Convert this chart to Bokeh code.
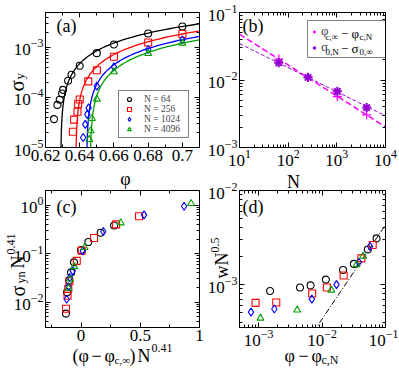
import numpy as np
from bokeh.plotting import figure
from bokeh.models import (Label, Legend, LegendItem, FixedTicker, LinearAxis, LogAxis,
                          CustomJSTickFormatter, GridBox)
from bokeh.embed import file_html
from bokeh.resources import INLINE

FONT = "Liberation Serif"
C64, C256, C1024, C4096 = "#000000", "#ff0000", "#0000ff", "#00a000"
MAGENTA, VIOLET = "#ff00ff", "#9400d3"

# ---------------- data ----------------
n_labels = ["N = 64", "N = 256", "N = 1024", "N = 4096"]

# panel (a): sigma_y vs phi
phi_a_64 = [0.625, 0.627, 0.6283, 0.6297, 0.6303, 0.6332, 0.6352, 0.640, 0.650, 0.660, 0.680, 0.700]
sig_a_64 = [3.7e-5, 7.1e-5, 9.0e-5, 1.2e-4, 1.42e-4, 2.16e-4, 2.85e-4, 4.3e-4, 7.7e-4, 1.15e-3, 1.9e-3, 2.63e-3]
phi_a_256 = [0.636, 0.6367, 0.6387, 0.6391, 0.640, 0.645, 0.650, 0.660, 0.680, 0.700]
sig_a_256 = [2.06e-5, 3.6e-5, 5.2e-5, 7.4e-5, 9.1e-5, 2.1e-4, 3.5e-4, 6.5e-4, 1.26e-3, 1.86e-3]
phi_a_1024 = [0.642, 0.6432, 0.6444, 0.6452, 0.650, 0.660, 0.680, 0.700]
sig_a_1024 = [1.58e-5, 2.9e-5, 4.6e-5, 6.2e-5, 1.69e-4, 4.1e-4, 9.1e-4, 1.43e-3]
phi_a_4096 = [0.6456, 0.6464, 0.6471, 0.650, 0.660, 0.680, 0.700]
sig_a_4096 = [1.45e-5, 2.16e-5, 3.8e-5, 9.3e-5, 3.27e-4, 7.6e-4, 1.22e-3]
# fit parameters sigma = A (phi - phi_c,N)^beta
fit_phic = [0.6289, 0.6377, 0.6440, 0.6461]
fit_amp = [0.0299, 0.0239, 0.0203, 0.0179]
fit_beta = 0.92

# panel (b): finite-size shifts
N_b = [64, 256, 1024, 4096]
dphi_b = [0.0204, 0.0111, 0.0057, 0.00305]
dsig_b = [0.018, 0.0109, 0.0068, 0.0039]
fit_dphi = (0.137, -0.458)
fit_dsig = (0.0789, -0.357)

# panel (c): scaling collapse
xc_64 = [-0.127, -0.118, -0.100, -0.084, -0.059, 0.0, 0.062, 0.166, 0.279]
yc_64 = [0.0058, 0.016, 0.028, 0.041, 0.066, 0.118, 0.173, 0.27, 0.38]
xc_256 = [-0.127, -0.114, -0.108, -0.098, -0.036, 0.005, 0.11, 0.296, 0.49]
yc_256 = [0.0073, 0.0135, 0.0186, 0.027, 0.071, 0.115, 0.21, 0.40, 0.59]
xc_1024 = [-0.121, -0.107, -0.095, -0.07, 0.014, 0.188, 0.532, 0.87]
yc_1024 = [0.0115, 0.0207, 0.032, 0.044, 0.114, 0.286, 0.63, 0.95]
xc_4096 = [-0.105, -0.093, -0.057, 0.03, 0.335, 0.929]
yc_4096 = [0.0194, 0.030, 0.054, 0.134, 0.43, 1.08]

# panel (d): width vs distance to phi_c,N
xd_64 = [1.52e-3, 4.5e-3, 6.6e-3, 0.0115, 0.0214, 0.0318, 0.0527, 0.0723]
yd_64 = [8.55e-4, 9.3e-4, 9.8e-4, 1.13e-3, 1.43e-3, 1.66e-3, 2.36e-3, 3.1e-3]
xd_256 = [8.97e-4, 1.9e-3, 7.0e-3, 0.0119, 0.0219, 0.0417, 0.0628]
yd_256 = [6.4e-4, 6.45e-4, 8.05e-4, 9.3e-4, 1.25e-3, 1.9e-3, 2.64e-3]
xd_1024 = [7.6e-4, 1.77e-3, 6.9e-3, 0.0169, 0.038, 0.0571]
yd_1024 = [5.1e-4, 5.5e-4, 7.0e-4, 1.0e-3, 1.73e-3, 2.54e-3]
xd_4096 = [1.07e-3, 4.06e-3, 0.014, 0.035, 0.0443]
yd_4096 = [4.4e-4, 5.37e-4, 8.75e-4, 1.63e-3, 2.0e-3]
fit_d = (0.043, 1.0)

# ticks
a_xticks = [0.62, 0.64, 0.66, 0.68, 0.70]
a_xminor = [0.63, 0.65, 0.67, 0.69, 0.71]
c_xticks = [0.0, 0.5, 1.0]
c_xminor = [-0.25, 0.25, 0.75]


def decades(lo, hi):
    return [10.0 ** e for e in range(lo, hi + 1)]


def minors(lo, hi):
    return [m * 10.0 ** e for e in range(lo, hi + 1) for m in range(2, 10)]


def no_align(p):
    if "frame_align" in p.properties():
        p.frame_align = False


# ---------------- helpers ----------------
LW, RW = 204, 194      # column widths
TH, BH = 174, 194      # row heights


def make_fig(xr, yr, xlog, ylog, left_col, top_row):
    p = figure(width=LW if left_col else RW, height=TH if top_row else BH,
               x_range=xr, y_range=yr,
               x_axis_type="log" if xlog else "linear",
               y_axis_type="log" if ylog else "linear",
               output_backend="svg", toolbar_location=None,
               min_border_left=45 if left_col else 30,
               min_border_right=5 if left_col else 13,
               min_border_top=12 if top_row else 16,
               min_border_bottom=27 if top_row else 41)
    p.xgrid.visible = False
    p.ygrid.visible = False
    p.outline_line_color = "black"
    p.background_fill_color = "white"
    p.border_fill_color = "white"
    no_align(p)
    return p


def style_axes(p, xt, xm, yt, ym, xlog, ylog, xfmt=None):
    xtick = FixedTicker(ticks=xt, minor_ticks=xm)
    ytick = FixedTicker(ticks=yt, minor_ticks=ym)
    bx = p.below[0]
    ly = p.left[0]
    bx.ticker = xtick
    ly.ticker = ytick
    if xfmt is not None:
        bx.formatter = xfmt
    top = (LogAxis if xlog else LinearAxis)(ticker=xtick, formatter=CustomJSTickFormatter(code="return ''"))
    right = (LogAxis if ylog else LinearAxis)(ticker=ytick, formatter=CustomJSTickFormatter(code="return ''"))
    p.add_layout(top, "above")
    p.add_layout(right, "right")
    for ax in (bx, ly, top, right):
        ax.major_tick_in = 5
        ax.major_tick_out = 0
        ax.minor_tick_in = 3
        ax.minor_tick_out = 0
        ax.axis_line_color = "black"
        ax.major_tick_line_color = "black"
        ax.minor_tick_line_color = "black"
        ax.major_label_text_font = FONT
        ax.major_label_text_color = "black"
    for ax in (bx, ly):
        ax.major_label_text_font_size = "17px"
        ax.major_label_standoff = 2
    for ax in (top, right):
        ax.major_label_text_font_size = "0px"
        ax.major_label_standoff = 0


num_fmt = CustomJSTickFormatter(code="return String(+tick.toFixed(2))")
ROT = np.pi / 2

# transparent overlay carrying the composite (sub/superscripted) titles
W, H = LW + RW, TH + BH
ov = figure(width=W, height=H, x_range=(0, W), y_range=(0, H), output_backend="svg",
            toolbar_location=None, min_border=0, min_border_left=0, min_border_right=0,
            min_border_top=0, min_border_bottom=0, x_axis_location=None,
            y_axis_location=None)
ov.outline_line_color = None
ov.background_fill_color = None
ov.border_fill_color = None
ov.grid.visible = False
no_align(ov)


def lab(text, px, py, size, angle=0.0, align="left", baseline="alphabetic"):
    """px, py: page pixel position of the text anchor (origin top-left)."""
    ov.add_layout(Label(x=px, y=H - py, x_units="screen", y_units="screen",
                        text=text, text_font=FONT, text_font_size=f"{size}px",
                        text_color="black", angle=angle, angle_units="rad",
                        text_align=align, text_baseline=baseline, level="overlay"))


# ---------------- panel (a) ----------------
pa = make_fig((0.62, 0.71), (1e-5, 5e-3), False, True, True, True)
style_axes(pa, a_xticks, a_xminor, decades(-5, -3), minors(-6, -3), False, True,
           xfmt=num_fmt)
series_a = [(phi_a_64, sig_a_64), (phi_a_256, sig_a_256), (phi_a_1024, sig_a_1024),
            (phi_a_4096, sig_a_4096)]
colors = [C64, C256, C1024, C4096]
markers = ["circle", "square", "diamond", "triangle"]
msize = [7, 7, 8, 7]
items = []
for i, (xs, ys) in enumerate(series_a):
    delta = np.geomspace(1e-8, 0.72 - fit_phic[i], 400)
    pa.line(fit_phic[i] + delta, fit_amp[i] * delta ** fit_beta, line_color=colors[i],
            line_width=1.3)
    r = pa.scatter(xs, ys, marker=markers[i], size=msize[i], line_color=colors[i],
                   fill_color=None, line_width=1.1)
    items.append(LegendItem(label=n_labels[i], renderers=[r]))
leg_a = Legend(items=items, location=(73, 9), label_text_font=FONT,
               label_text_font_size="9.5px", glyph_width=14, glyph_height=10,
               label_height=10, label_width=41, label_standoff=8, padding=3,
               spacing=0, margin=0, border_line_color="black", border_line_width=1,
               background_fill_alpha=1.0)
pa.add_layout(leg_a)
lab("(a)", 66, 25, 18, align="center", baseline="middle")
lab("φ", 125, 178, 18, align="center")
lab("σ", 16, 91, 21, angle=ROT)
lab("y", 19, 79, 13, angle=ROT)

# ---------------- panel (b) ----------------
pb = make_fig((10, 1e4), (1e-3, 1e-1), True, True, False, True)
style_axes(pb, decades(1, 4), minors(1, 4), decades(-3, -1), minors(-3, -1), True, True)
Nl = np.geomspace(10, 1e4, 50)
pb.line(Nl, fit_dphi[0] * Nl ** fit_dphi[1], line_color=MAGENTA, line_width=1.5,
        line_dash="6 3")
pb.line(Nl, fit_dsig[0] * Nl ** fit_dsig[1], line_color=VIOLET, line_width=1.0,
        line_dash="4 2")
rp = pb.scatter(N_b, dphi_b, marker="cross", size=9, line_color=MAGENTA, line_width=1.3)
rs = pb.scatter(N_b, dsig_b, marker="asterisk", size=9, line_color=VIOLET, line_width=2)
leg_b = Legend(items=[LegendItem(label="φ", renderers=[rp]),
                      LegendItem(label="σ", renderers=[rs])],
               location=(68, 89), label_text_font=FONT, label_text_font_size="13px",
               glyph_width=8, glyph_height=15, label_height=15, label_width=68,
               label_standoff=3, padding=2, spacing=0, margin=0,
               border_line_color="black", border_line_width=1, background_fill_alpha=1.0)
pb.add_layout(leg_b)
lab("c,∞", 325, 36.5, 9, baseline="middle")
lab("−", 340.5, 33, 13, baseline="middle")
lab("φ", 351, 33, 13, baseline="middle")
lab("c,N", 359, 36.5, 9, baseline="middle")
lab("0,N", 325, 51.5, 9, baseline="middle")
lab("−", 340.5, 48, 13, baseline="middle")
lab("σ", 351, 48, 13, baseline="middle")
lab("0,∞", 359, 51.5, 9, baseline="middle")
lab("(b)", 252.5, 25, 18, align="center", baseline="middle")
lab("N", 293, 181.5, 18, align="center")

# ---------------- panel (c) ----------------
pc = make_fig((-0.3, 1.0), (3e-3, 2.0), False, True, True, False)
style_axes(pc, c_xticks, c_xminor, decades(-2, 0), minors(-3, 0), False, True,
           xfmt=num_fmt)
series_c = [(xc_64, yc_64), (xc_256, yc_256), (xc_1024, yc_1024), (xc_4096, yc_4096)]
for i, (xs, ys) in enumerate(series_c):
    pc.scatter(xs, ys, marker=markers[i], size=msize[i], line_color=colors[i],
               fill_color=None, line_width=1.1)
lab("(c)", 66, 206, 18, align="center", baseline="middle")
lab("σ", 17, 296, 20, angle=ROT)
lab("yn", 20, 283, 12, angle=ROT)
lab("N", 17, 268, 18, angle=ROT)
lab("0.41", 10, 254, 12, angle=ROT)
lab("(φ", 72, 355, 18)
lab("−", 91, 355, 18)
lab("φ", 104, 355, 18)
lab("c,∞", 114, 359, 11)
lab(")", 129, 355, 18)
lab("N", 137, 355, 18)
lab("0.41", 151, 347, 12)

# ---------------- panel (d) ----------------
pd_ = make_fig((5e-4, 0.1), (3.5e-4, 1e-2), True, True, False, False)
style_axes(pd_, decades(-3, -1), minors(-4, -1), decades(-3, -2), minors(-4, -2), True, True)
xl = np.geomspace(5e-4, 0.1, 50)
pd_.line(xl, fit_d[0] * xl ** fit_d[1], line_color="black", line_width=1.0,
         line_dash="6 2 1 2")
series_d = [(xd_64, yd_64), (xd_256, yd_256), (xd_1024, yd_1024), (xd_4096, yd_4096)]
for i, (xs, ys) in enumerate(series_d):
    pd_.scatter(xs, ys, marker=markers[i], size=msize[i], line_color=colors[i],
                fill_color=None, line_width=1.1)
lab("(d)", 252.5, 206, 18, align="center", baseline="middle")
lab("wN", 221, 278, 18, angle=ROT)
lab("0.5", 214, 252, 12, angle=ROT)
lab("φ", 284, 355, 18)
lab("−", 298, 355, 18)
lab("φ", 311, 355, 18)
lab("c,N", 321, 359, 12)

grid = GridBox(children=[(pa, 0, 0), (pb, 0, 1), (pc, 1, 0), (pd_, 1, 1),
                         (ov, 0, 0, 2, 2)], spacing=0)
open("out.html", "w").write(file_html(grid, INLINE))
